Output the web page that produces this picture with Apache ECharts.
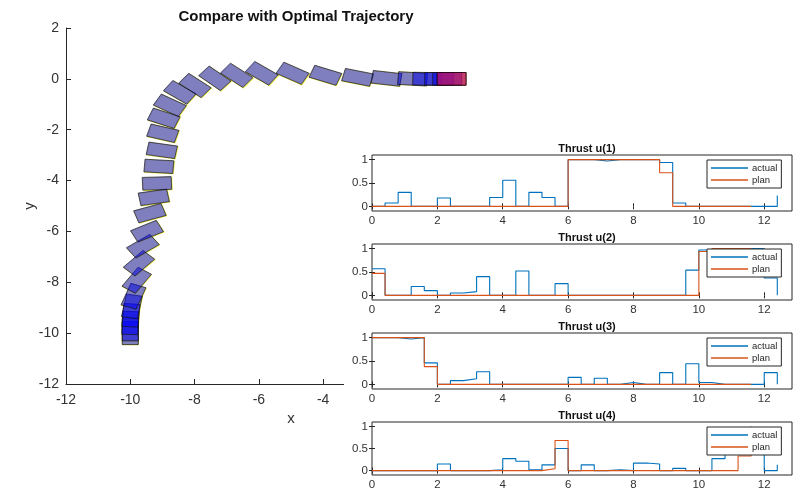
<!DOCTYPE html>
<html>
<head>
<meta charset="utf-8">
<script src="https://cdn.jsdelivr.net/npm/echarts@6/dist/echarts.min.js"></script>
<style>html,body{margin:0;padding:0;background:#fff}#c{width:797px;height:491px}</style>
</head>
<body>
<div id="c"></div>
<script>
// ---------- data ----------
// trajectory (actual) box centres, heading in degrees
const boxX = [-10.00,-10.00,-10.00,-9.98,-9.95,-9.90,-9.80,-9.73,-9.61,-9.48,-9.39,-9.27,-9.17,-9.11,-9.02,-8.99,-8.96,-8.77,-8.46,-7.99,-7.37,-6.69,-5.91,-4.95,-3.93,-2.93,-2.03,-1.22,-0.76,-0.39,-0.14,-0.01];
const boxY = [-10.00,-9.85,-9.60,-9.30,-8.95,-8.55,-7.92,-7.25,-6.58,-5.99,-5.28,-4.66,-4.11,-3.44,-2.81,-2.14,-1.55,-1.04,-0.53,-0.26,0.02,0.14,0.22,0.22,0.14,0.06,0.02,0.00,0.00,0.00,0.00,0.00];
const boxTheta = [90,90,88,86,80,70,56,47,36,27,19,10,2,-4,-10,-16,-22,-30,-36,-39,-41,-39,-36,-29,-21,-14,-8,-4,-1,0,0,0];
// optimal (planned) trajectory boxes
const planX = [-10.00,-10.00,-9.99,-9.97,-9.94,-9.89,-9.79,-9.71,-9.59,-9.46,-9.37,-9.25,-9.15,-9.09,-9.00,-8.97,-8.94,-8.75,-8.44,-7.97,-7.35,-6.67,-5.89,-4.93,-3.92,-2.92,-2.02,-1.21,-0.75,-0.39,-0.14,-0.01];
const planY = [-10.01,-9.87,-9.62,-9.32,-8.97,-8.57,-7.94,-7.27,-6.60,-6.01,-5.30,-4.68,-4.13,-3.46,-2.83,-2.16,-1.57,-1.06,-0.55,-0.28,0.00,0.11,0.19,0.19,0.12,0.04,0.01,0.00,0.00,0.00,0.00,0.00];
const planTheta = [90,90,88,86,80,70,56,47,36,27,19,10,2,-4,-10,-16,-22,-30,-36,-39,-41,-39,-36,-29,-21,-14,-8,-4,-1,0,0,0];
// goal pose
const goalX = [0];
const goalY = [0];
const goalTheta = [0];

// thrust time grid
const tActual = [0,0.4,0.8,1.2,1.6,2.0,2.4,2.8,3.2,3.6,4.0,4.4,4.8,5.2,5.6,6.0,6.4,6.8,7.2,7.6,8.0,8.4,8.8,9.2,9.6,10.0,10.4,10.8,11.2,11.6,12.0,12.4];
const tPlan   = [0,0.4,0.8,1.2,1.6,2.0,2.4,2.8,3.2,3.6,4.0,4.4,4.8,5.2,5.6,6.0,6.4,6.8,7.2,7.6,8.0,8.4,8.8,9.2,9.6,10.0,10.4,10.8,11.2,11.6];

const u1Actual = [0,0.07,0.3,0,0,0.18,0,0,0,0.19,0.56,0,0.3,0.19,0,1,1,0.97,1,1,1,1,0.94,0.07,0,0,0,0,0,0,0,0.23];
const u1Plan   = [0,0,0,0,0,0,0,0,0,0,0,0,0,0,0,1,1,1,1,1,1,1,0.72,0,0,0,0,0,0,0];
const u2Actual = [0.57,0,0,0.19,0.1,0,0.05,0.08,0.4,0,0,0.52,0,0,0.25,0,0,0,0,0,0,0,0,0,0.54,0.97,1,1,1,1,0.37,0];
const u2Plan   = [0.47,0,0,0,0,0,0,0,0,0,0,0,0,0,0,0,0,0,0,0,0,0,0,0,0,0.94,1,1,1,1];
const u3Actual = [1,1,0.97,1,0.46,0,0.08,0.12,0.27,0,0,0,0,0,0,0.15,0,0.13,0,0.04,0,0,0.25,0,0.44,0.04,0,0,0,0,0.25,0];
const u3Plan   = [1,1,1,1,0.38,0,0,0,0,0,0,0,0,0,0,0,0,0,0,0,0,0,0,0,0,0,0,0,0,0];
const u4Actual = [0,0,0,0,0,0.15,0,0,0,0.02,0.27,0.21,0.02,0.13,0.5,0,0.13,0,0.02,0,0.17,0.15,0,0.05,0,0,0.27,0.42,0.45,0.5,0,0.13];
const u4Plan   = [0,0,0,0,0,0,0,0,0,0,0,0,0,0.04,0.68,0,0,0,0,0,0,0,0,0,0,0,0,0,0.33,1];

const thrustXTicks = [0,2,4,6,8,10,12];
const thrustYTicks = [0,0.5,1];
const thrustTitles = ['Thrust u(1)','Thrust u(2)','Thrust u(3)','Thrust u(4)'];
const seriesNames = ['actual','plan'];

// ---------- chart ----------
const FONT = 'Liberation Sans, Arial, Helvetica, sans-serif';
const AX = '#262626';
const BLUE = '#0072BD', ORANGE = '#D95319';
const BOX_L = 0.9, BOX_W = 0.5;

const zip3 = (a,b,c) => a.map((v,i)=>[v,b[i],c[i]]);
const pairs = (ts, vs) => vs.map((v,i)=>[ts[i], v]);

function boxRenderer(fill, stroke, lw) {
  return function (params, api) {
    const cx = api.value(0), cy = api.value(1), th = api.value(2) * Math.PI / 180;
    const c = Math.cos(th), s = Math.sin(th);
    const hl = BOX_L / 2, hw = BOX_W / 2;
    const pts = [[hl,hw],[-hl,hw],[-hl,-hw],[hl,-hw]].map(([a,b]) =>
      api.coord([cx + a*c - b*s, cy + a*s + b*c]));
    return { type: 'polygon', shape: { points: pts }, style: { fill: fill, stroke: stroke, lineWidth: lw } };
  };
}

const subTops = [155, 244, 333, 422];
const SUB_LEFT = 372, SUB_W = 420, SUB_H = 56;

const grids = [{ left: 66, top: 28, width: 450, height: 356, z: 0 }];
const xAxes = [{
  gridIndex: 0, type: 'value', min: -12, max: 2, interval: 2,
  axisLine: { show: true, onZero: false, lineStyle: { color: AX, width: 1 } },
  axisTick: { inside: true, length: 5, lineStyle: { color: AX } },
  axisLabel: { color: '#333', fontSize: 14, fontFamily: FONT, margin: 9 },
  splitLine: { show: false },
  name: 'x', nameLocation: 'middle', nameGap: 27, nameMoveOverlap: false,
  nameTextStyle: { color: '#333', fontSize: 15, fontFamily: FONT }
}];
const yAxes = [{
  gridIndex: 0, type: 'value', min: -12, max: 2, interval: 2,
  axisLine: { show: true, onZero: false, lineStyle: { color: AX, width: 1 } },
  axisTick: { inside: true, length: 5, lineStyle: { color: AX } },
  axisLabel: { color: '#333', fontSize: 14, fontFamily: FONT, margin: 7 },
  splitLine: { show: false },
  name: 'y', nameLocation: 'middle', nameGap: 29, nameRotate: 90, nameMoveOverlap: false,
  nameTextStyle: { color: '#333', fontSize: 15, fontFamily: FONT }
}];
const titles = [{
  text: 'Compare with Optimal Trajectory', left: 291, top: 4, textAlign: 'center',
  textStyle: { fontSize: 15, fontWeight: 'bold', color: '#111', fontFamily: FONT }
}];
const legends = [];
const series = [
  { type: 'custom', xAxisIndex: 0, yAxisIndex: 0, z: 2, renderItem: boxRenderer('rgba(255,255,0,0.5)', 'rgba(225,225,0,0.8)', 0.7),
    data: zip3(planX, planY, planTheta), silent: true },
  { type: 'custom', xAxisIndex: 0, yAxisIndex: 0, z: 2, renderItem: boxRenderer('rgba(0,0,255,0.5)', 'rgba(20,20,20,0.85)', 0.8),
    data: zip3(boxX, boxY, boxTheta), silent: true },
  { type: 'custom', xAxisIndex: 0, yAxisIndex: 0, z: 2, renderItem: boxRenderer('rgba(240,20,60,0.6)', 'rgba(30,0,20,0.9)', 0.8),
    data: zip3(goalX, goalY, goalTheta), silent: true }
];

const actualSets = [u1Actual, u2Actual, u3Actual, u4Actual];
const planSets = [u1Plan, u2Plan, u3Plan, u4Plan];

subTops.forEach((top, k) => {
  const gi = k + 1;
  grids.push({ left: SUB_LEFT, top: top, width: SUB_W, height: SUB_H, show: true,
    borderColor: AX, borderWidth: 1, backgroundColor: 'transparent', z: 5 });
  const xb = xAxes.length;
  xAxes.push({
    gridIndex: gi, type: 'value', min: 0, max: 12.85, position: 'bottom', z: 5,
    axisLine: { show: false },
    axisTick: { inside: true, length: 3, lineStyle: { color: AX }, customValues: thrustXTicks },
    axisLabel: { color: '#333', fontSize: 11.5, fontFamily: FONT, margin: 4, customValues: thrustXTicks },
    splitLine: { show: false }
  });
  xAxes.push({
    gridIndex: gi, type: 'value', min: 0, max: 12.85, position: 'top', z: 5,
    axisLine: { show: false },
    axisTick: { inside: true, length: 3, lineStyle: { color: AX }, customValues: thrustXTicks },
    axisLabel: { show: false }, splitLine: { show: false }
  });
  const yb = yAxes.length;
  yAxes.push({
    gridIndex: gi, type: 'value', min: -0.1, max: 1.1, position: 'left', z: 5,
    axisLine: { show: false },
    axisTick: { inside: true, length: 3, lineStyle: { color: AX }, customValues: thrustYTicks },
    axisLabel: { color: '#333', fontSize: 11.5, fontFamily: FONT, margin: 4, customValues: thrustYTicks },
    splitLine: { show: false }
  });
  yAxes.push({
    gridIndex: gi, type: 'value', min: -0.1, max: 1.1, position: 'right', z: 5,
    axisLine: { show: false },
    axisTick: { inside: true, length: 3, lineStyle: { color: AX }, customValues: thrustYTicks },
    axisLabel: { show: false }, splitLine: { show: false }
  });
  titles.push({
    text: thrustTitles[k], left: SUB_LEFT + SUB_W / 2, top: top - 17, textAlign: 'center',
    textStyle: { fontSize: 11, fontWeight: 'bold', color: '#111', fontFamily: FONT }
  });
  legends.push({
    data: seriesNames, orient: 'vertical', left: 707, top: top + 5,
    itemWidth: 37, itemHeight: 1.6, itemGap: 2, icon: 'rect',
    padding: [3, 4, 3, 4], borderColor: AX, borderWidth: 1, backgroundColor: '#fff',
    borderRadius: 0, z: 8, selectedMode: false,
    textStyle: { fontSize: 9.5, color: '#262626', fontFamily: FONT, padding: [0, 0, 0, -1] }
  });
  series.push({
    name: seriesNames[0], type: 'line', step: 'end', xAxisIndex: xb, yAxisIndex: yb,
    data: pairs(tActual, actualSets[k]), showSymbol: false, symbol: 'none', z: 6,
    lineStyle: { color: BLUE, width: 1.1 }, itemStyle: { color: BLUE }, animation: false
  });
  series.push({
    name: seriesNames[1], type: 'line', step: 'end', xAxisIndex: xb, yAxisIndex: yb,
    data: pairs(tPlan, planSets[k]), showSymbol: false, symbol: 'none', z: 6,
    lineStyle: { color: ORANGE, width: 1.1 }, itemStyle: { color: ORANGE }, animation: false
  });
});

const chart = echarts.init(document.getElementById('c'), null, { renderer: 'canvas' });
chart.setOption({
  animation: false,
  backgroundColor: '#fff',
  title: titles,
  legend: legends,
  grid: grids,
  xAxis: xAxes,
  yAxis: yAxes,
  graphic: { elements: [
    { type: 'rect', z: 3, silent: true, shape: { x: 344, y: 135, width: 460, height: 360 }, style: { fill: '#fff' } }
  ] },
  series: series
});
</script>
</body>
</html>
